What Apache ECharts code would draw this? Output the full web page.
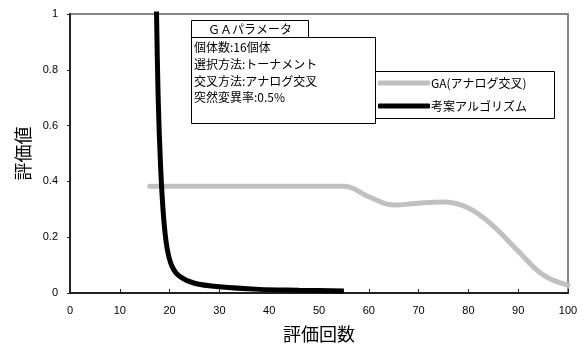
<!DOCTYPE html>
<html><head><meta charset="utf-8">
<script src="https://cdn.jsdelivr.net/npm/echarts@6/dist/echarts.min.js"></script>
<style>html,body{margin:0;padding:0;background:#fff;}#c{width:586px;height:349px;}</style>
</head><body><div id="c"></div>
<script>
var seriesNames = ['GA(アナログ交叉)', '考案アルゴリズム'];
var gaX = [16, 55, 60, 65, 70, 75, 80, 85, 90, 95, 100];
var gaY = [0.383, 0.383, 0.345, 0.315, 0.322, 0.326, 0.305, 0.24, 0.15, 0.065, 0.028];
var propX = [17.35, 17.7, 18.2, 18.8, 19.5, 20.5, 22, 25, 30, 38, 46, 55];
var propY = [1.03, 0.7, 0.45, 0.27, 0.16, 0.095, 0.06, 0.035, 0.022, 0.013, 0.01, 0.007];
var xTicks = [0, 10, 20, 30, 40, 50, 60, 70, 80, 90, 100];
var yTicks = [0, 0.2, 0.4, 0.6, 0.8, 1];
var paramTitle = 'ＧＡパラメータ';
var paramLines = ['個体数:16個体', '選択方法:トーナメント', '交叉方法:アナログ交叉', '突然変異率:0.5%'];

function pairs(xs, ys) { return xs.map(function (x, i) { return [x, ys[i]]; }); }

var jp = '"Noto Sans CJK JP", "Liberation Sans", sans-serif';
var num = '"Liberation Sans", Arial, sans-serif';

var chart = echarts.init(document.getElementById('c'));
chart.setOption({
  animation: false,
  backgroundColor: '#fff',
  grid: { left: 70, right: 18, top: 14, bottom: 56, show: true, borderColor: '#888', borderWidth: 2, backgroundColor: 'transparent' },
  xAxis: {
    type: 'value', min: xTicks[0], max: xTicks[xTicks.length - 1], interval: 10,
    name: '評価回数', nameLocation: 'middle', nameGap: 32,
    nameTextStyle: { fontFamily: jp, fontSize: 18, color: '#000' },
    axisLine: { lineStyle: { color: '#222', width: 2 } },
    axisTick: { inside: true, length: 4, lineStyle: { color: '#222' } },
    axisLabel: { fontFamily: num, fontSize: 11, color: '#000', margin: 12 },
    splitLine: { show: false }
  },
  yAxis: {
    type: 'value', min: yTicks[0], max: yTicks[yTicks.length - 1], interval: 0.2,
    name: '評価値', nameLocation: 'middle', nameGap: 32,
    nameTextStyle: { fontFamily: jp, fontSize: 18, color: '#000' },
    axisLine: { show: true, lineStyle: { color: '#222', width: 2 } },
    axisTick: { show: true, inside: false, length: 3, lineStyle: { color: '#222' } },
    axisLabel: { fontFamily: num, fontSize: 11, color: '#000', margin: 12 },
    splitLine: { show: false }
  },
  legend: {
    orient: 'vertical', left: 373, top: 71,
    padding: [6, 22, 6, 5], itemGap: 11,
    itemWidth: 52, itemHeight: 5, icon: 'roundRect',
    textStyle: { fontFamily: jp, fontSize: 12, color: '#000', padding: [0, 0, 0, -4] },
    data: seriesNames, z: 110
  },
  series: [
    { name: seriesNames[0], type: 'line', data: pairs(gaX, gaY), showSymbol: false, symbol: 'none',
      smooth: 0.4, lineStyle: { color: '#c0c0c0', width: 5, cap: 'round' }, itemStyle: { color: '#c0c0c0' } },
    { name: seriesNames[1], type: 'line', data: pairs(propX, propY), showSymbol: false, symbol: 'none',
      smooth: 0.3, lineStyle: { color: '#000', width: 5 }, itemStyle: { color: '#000' } }
  ],
  graphic: [
    { type: 'rect', shape: { x: 373.5, y: 71.5, width: 181, height: 47 }, style: { fill: '#fff', stroke: '#000', lineWidth: 1 }, z: 90 },
    { type: 'rect', shape: { x: 191.5, y: 20.5, width: 117, height: 17 }, style: { fill: '#fff', stroke: '#000', lineWidth: 1 }, z: 100 },
    { type: 'text', x: 250, y: 29, style: { text: paramTitle, fontFamily: jp, fontSize: 12, fill: '#000', align: 'center', verticalAlign: 'middle' }, z: 101 },
    { type: 'rect', shape: { x: 191.5, y: 37.5, width: 184, height: 86 }, style: { fill: '#fff', stroke: '#000', lineWidth: 1 }, z: 100 },
    { type: 'text', x: 194, y: 47, style: { text: paramLines[0], fontFamily: jp, fontSize: 12, fill: '#000', verticalAlign: 'middle' }, z: 101 },
    { type: 'text', x: 194, y: 64, style: { text: paramLines[1], fontFamily: jp, fontSize: 12, fill: '#000', verticalAlign: 'middle' }, z: 101 },
    { type: 'text', x: 194, y: 81, style: { text: paramLines[2], fontFamily: jp, fontSize: 12, fill: '#000', verticalAlign: 'middle' }, z: 101 },
    { type: 'text', x: 194, y: 97, style: { text: paramLines[3], fontFamily: jp, fontSize: 12, fill: '#000', verticalAlign: 'middle' }, z: 101 }
  ]
});
</script></body></html>
